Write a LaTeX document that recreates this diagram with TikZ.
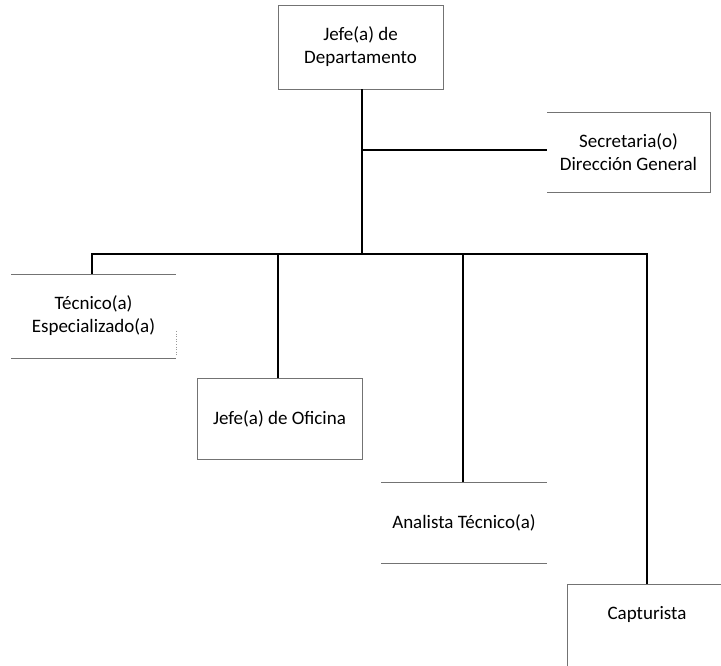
\documentclass[tikz,border=0pt]{standalone}
\usepackage{fontspec}
\setmainfont{Carlito}
\begin{document}
\begin{tikzpicture}[x=1pt,y=-1pt,
  orgbox/.style={inner sep=0pt,outer sep=0pt,align=center,font=\fontsize{19}{23}\selectfont},
  edge/.style={draw=black!55,line width=0.8pt},
  faint/.style={draw=black!40,line width=0.6pt,dotted},
  link/.style={draw=black,line width=1.8pt}]
\useasboundingbox (0,0) rectangle (721,665);
\fill[white] (0,0) rectangle (721,665);

\node[orgbox,minimum width=165,minimum height=84] (dept) at (360.5,47) {Jefe(a) de\\Departamento};
\node[orgbox,minimum width=163,minimum height=80] (sec) at (628.5,152) {Secretaria(o)\\Dirección General};
\node[orgbox,minimum width=165,minimum height=84] (tec) at (93.5,316) {Técnico(a)\\Especializado(a)};
\node[orgbox,minimum width=165,minimum height=81] (ofi) at (279.5,418.5) {Jefe(a) de Oficina};
\node[orgbox,minimum width=166,minimum height=81] (ana) at (464,522.5) {Analista Técnico(a)};
\node[orgbox,minimum width=160,minimum height=60] (cap) at (647,614) {Capturista};

% box outlines (only the sides visible in the scan)
\draw[edge] (dept.north west) rectangle (dept.south east);
\draw[edge] (sec.north west) -- (sec.north east) -- (sec.south east) -- (sec.south west);
\draw[edge] (tec.north west) -- (tec.north east);
\draw[edge] (tec.south west) -- (tec.south east);
\draw[faint] ([yshift=-15pt]tec.east) -- ([yshift=-40pt]tec.east);
\draw[edge] (ofi.north west) rectangle (ofi.south east);
\draw[edge] (ana.north west) -- (ana.north east);
\draw[edge] (ana.south west) -- (ana.south east);
\draw[edge] (cap.north east) -- (cap.north west) -- ++(0,85);

% connectors
\coordinate (busL) at (92,254);
\coordinate (busR) at (647,254);
\draw[link] (dept.south -| 362,0) -- (362,254);
\draw[link] (362,150) -- (sec.west |- 0,150);
\draw[link,line cap=rect] (busL) -- (busR);
\draw[link] (busL) -- (busL |- tec.north);
\draw[link] (ofi.north -| 278,0) -- (278,254);
\draw[link] (ana.north -| 463,0) -- (463,254);
\draw[link] (busR) -- (cap.north);
\end{tikzpicture}
\end{document}
